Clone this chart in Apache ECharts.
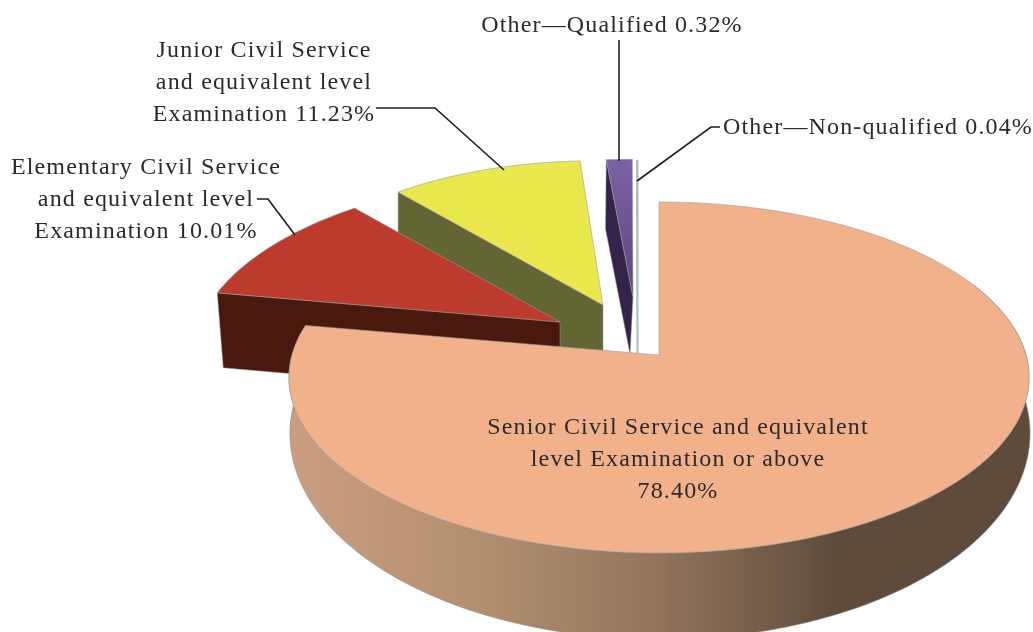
<!DOCTYPE html>
<html>
<head>
<meta charset="utf-8">
<title>Civil service examination levels</title>
<style>
  html, body { margin: 0; padding: 0; background: #fff; }
  #chart { width: 1033px; height: 632px; }
</style>
</head>
<body>
<div id="chart"></div>
<script src="https://cdn.jsdelivr.net/npm/echarts@6/dist/echarts.min.js"></script>
<script>
var categories = ['Senior', 'Elementary', 'Junior', 'Other-Qualified', 'Other-Non-qualified'];
// values printed in the labels
var shares = [78.40, 10.01, 11.23, 0.32, 0.04];
// share of the circle each wedge really occupies in the picture
var drawnShares = [77.8, 10.6, 10.4, 1.17, 0.03];

var labelPrefix = [
  ['Senior Civil Service and equivalent', 'level Examination or above', ''],
  ['Elementary Civil Service', 'and equivalent level', 'Examination '],
  ['Junior Civil Service', 'and equivalent level', 'Examination '],
  ['Other—Qualified '],
  ['Other—Non-qualified ']
];

(function() {
  var ink = '#2a2a2a';
  var font = '24px "Liberation Serif"';
  var trackSpacing = '1.15px';

  // ── Disc projection: unit circle seen from above with some perspective ──
  var radiusX = 367;
  var radiusY = 172.6;
  var persp = 0.128;

  // top = affine placement of the top face, bottom = the same for the lower face
  var sliceLayout = [
    { z: 10, fill: '#f1b28b', wall: null,
      top: { ax: 659, ay: 355, xx: 1, xy: 0, yx: 0, yy: 1 },
      bottom: { ax: 660, ay: 407, xx: 1, xy: 0, yx: 0, yy: 1.174 } },
    { z: 8, fill: '#bc3b2d', wall: '#4a190e',
      top: { ax: 560, ay: 322, xx: 0.979, xy: -0.11, yx: 0.0017, yy: 0.966 },
      bottom: { ax: 560, ay: 397, xx: 0.962, xy: -0.11, yx: 0.0017, yy: 0.966 } },
    { z: 6, fill: '#e9e84c', wall: '#646535',
      top: { ax: 603, ay: 305, xx: 0.917, xy: 0.003, yx: 0.01, yy: 0.942 },
      bottom: { ax: 603, ay: 352, xx: 0.917, xy: 0.003, yx: 0.01, yy: 0.05 } },
    { z: 4, fill: '#6f5899', wall: '#34234a',
      top: { ax: 633, ay: 297, xx: 1.09, xy: 0, yx: 0, yy: 0.9 },
      bottom: { ax: 630, ay: 354, xx: 1.0, xy: 0, yx: 0, yy: 0.82 } },
    { z: 2, fill: '#a9c0c8', wall: null,
      top: { ax: 637.5, ay: 353, xx: 1, xy: 0, yx: 0, yy: 1.255 },
      bottom: null }
  ];

  var rimGradient = new echarts.graphic.LinearGradient(0, 0, 1, 0, [
    { offset: 0, color: '#cb9e80' },
    { offset: 0.25, color: '#b3906f' },
    { offset: 0.5, color: '#93745c' },
    { offset: 0.68, color: '#6c5645' },
    { offset: 0.74, color: '#5f4b3b' },
    { offset: 1, color: '#5f4b3b' }
  ]);
  var purpleGradient = new echarts.graphic.LinearGradient(0, 0, 0, 1, [
    { offset: 0, color: '#7a62a6' },
    { offset: 1, color: '#5c4679' }
  ]);

  function project(deg, r, place) {
    var t = deg * Math.PI / 180;
    var x = r * Math.sin(t);
    var y = -r * Math.cos(t);
    var w = 1 - persp * y;
    var X = radiusX * x / w;
    var Y = radiusY * y / w;
    return [place.ax + place.xx * X + place.xy * Y, place.ay + place.yx * X + place.yy * Y];
  }

  function arcPoints(from, to, place) {
    var pts = [];
    var steps = Math.max(1, Math.ceil((to - from) / 1.5));
    for (var i = 0; i <= steps; i++) {
      pts.push(project(from + (to - from) * i / steps, 1, place));
    }
    return pts;
  }

  function renderSlice(params, api) {
    var idx = params.dataIndex;
    var place = sliceLayout[idx];
    var before = 0;
    for (var i = 0; i < idx; i++) before += drawnShares[i];
    var start = before * 3.6;
    var end = start + api.value(0) * 3.6;
    var children = [];

    // outer rim, only the big wedge shows it
    if (idx === 0) {
      var topArc = arcPoints(65, end, place.top);
      var bottomArc = arcPoints(65, end, place.bottom).reverse();
      children.push({
        type: 'polygon', z2: place.z,
        shape: { points: topArc.concat(bottomArc) },
        style: { fill: rimGradient, stroke: '#8a8a8a', lineWidth: 0.6 }
      });
    }
    // cut face along the leading edge
    if (place.wall) {
      children.push({
        type: 'polygon', z2: place.z,
        shape: { points: [
          project(start, 1, place.top), project(start, 0, place.top),
          project(start, 0, place.bottom), project(start, 1, place.bottom)
        ] },
        style: { fill: place.wall, stroke: '#9a9a9a', lineWidth: 0.5 }
      });
    }
    // top face
    var face = [project(0, 0, place.top)].concat(arcPoints(start, end, place.top));
    children.push({
      type: 'polygon', z2: place.z + 1,
      shape: { points: face },
      style: {
        fill: idx === 3 ? purpleGradient : place.fill,
        stroke: idx === 4 ? place.fill : '#9a9a9a',
        lineWidth: idx === 4 ? 2 : 0.6
      }
    });
    return { type: 'group', children: children };
  }

  // ── Leader lines and labels ──
  var leaders = [
    [[376, 108], [435, 108], [504, 170]],
    [[257, 199], [268, 199], [295, 235]],
    [[619, 40], [619, 161]],
    [[720, 127], [711, 127], [637, 181]]
  ];
  var labelPlaces = [
    { x: 678, y: 428 },
    { x: 146, y: 168 },
    { x: 264, y: 51 },
    { x: 612, y: 26 },
    { x: 878, y: 128 }
  ];

  var graphics = [];
  leaders.forEach(function(pts) {
    graphics.push({
      type: 'polyline', z: 50, shape: { points: pts },
      style: { stroke: '#1d1d1d', lineWidth: 1.6, fill: null }
    });
  });
  labelPrefix.forEach(function(lines, i) {
    lines.forEach(function(line, row) {
      var isLast = row === lines.length - 1;
      graphics.push({
        type: 'text', z: 60, x: labelPlaces[i].x, y: labelPlaces[i].y + row * 32,
        style: {
          text: isLast ? line + shares[i].toFixed(2) + '%' : line,
          font: font, fill: ink, textAlign: 'center', textVerticalAlign: 'middle'
        }
      });
    });
  });

  var chart = echarts.init(document.getElementById('chart'), null, { renderer: 'canvas' });
  chart.setOption({
    animation: false,
    backgroundColor: '#ffffff',
    graphic: { elements: graphics },
    series: [{
      type: 'custom',
      coordinateSystem: 'none',
      renderItem: renderSlice,
      data: categories.map(function(name, i) { return { name: name, value: [drawnShares[i]] }; }),
      silent: true,
      clip: false
    }]
  });

  // the source text is tracked out, canvas can do that on its context
  var zr = chart.getZr();
  zr.refreshImmediately();
  var cv = document.querySelector('#chart canvas');
  if (cv) {
    cv.getContext('2d').letterSpacing = trackSpacing;
    zr.painter.refresh(true);
  }
})();
</script>
</body>
</html>
